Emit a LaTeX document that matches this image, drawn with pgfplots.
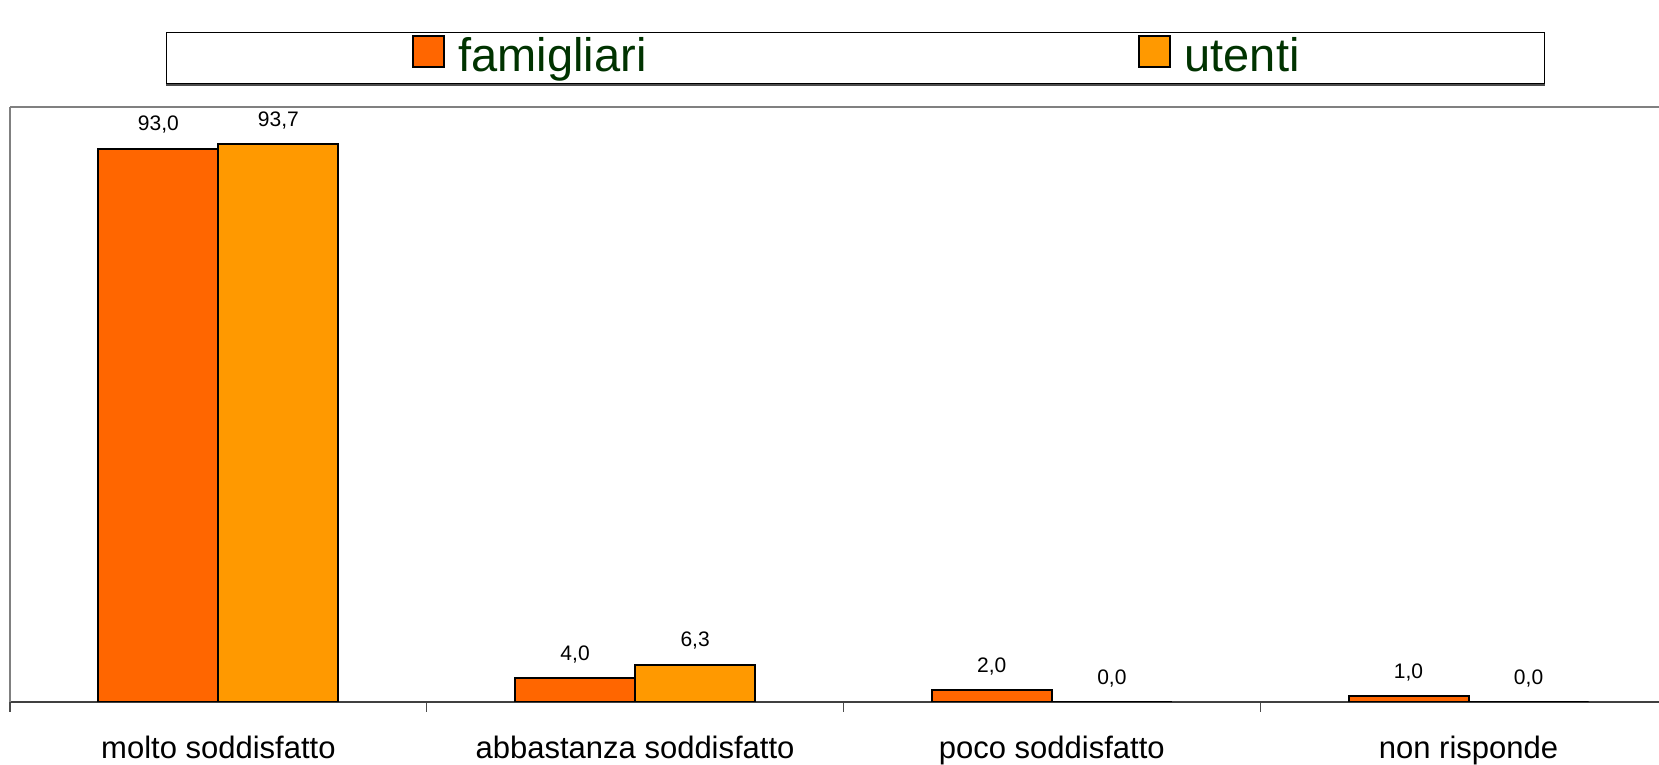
\documentclass[border=0pt]{standalone}
\usepackage{fontspec}
\setmainfont{Liberation Sans}
\usepackage{pgfplots}
\pgfplotsset{compat=1.18}
\definecolor{famc}{HTML}{FF6600}
\definecolor{utec}{HTML}{FF9900}
\definecolor{legtext}{HTML}{003300}
\begin{document}
\begin{tikzpicture}
\path[use as bounding box] (0,0) rectangle (829.5bp,382.5bp);
\begin{axis}[
  at={(5bp,31.5bp)}, anchor=south west,
  scale only axis, width=824.5bp, height=297.5bp,
  xmin=-0.5, xmax=3.457, ymin=0, ymax=100,
  ybar=0pt, bar width=0.288,
  axis x line*=bottom, axis y line*=left,
  x axis line style={-, draw=black!75, line width=1bp},
  y axis line style={-, draw=black!50, line width=1bp},
  ytick=\empty,
  xtick={0,1,2,3},
  xticklabels={molto soddisfatto, abbastanza soddisfatto, poco soddisfatto, non risponde},
  minor xtick={-0.5,0.5,1.5,2.5},
  major tick length=0pt, minor tick length=5bp,
  tick align=outside,
  minor tick style={draw=black!70, line width=0.6bp},
  xticklabel style={font=\fontsize{15.5bp}{18bp}\selectfont, anchor=base, yshift=-28bp},
  nodes near coords,
  every node near coord/.append style={font=\fontsize{10.5bp}{12bp}\selectfont, anchor=base, yshift=9bp, black},
  /pgf/number format/fixed,
  /pgf/number format/fixed zerofill,
  /pgf/number format/precision=1,
  /pgf/number format/use comma,
  /pgf/number format/assume math mode=true,
  legend columns=2,
  legend style={name=leg, at={(axis description cs:0.0946,1.1261)}, anchor=north west,
    draw=black, line width=0.6bp, fill=white,
    inner xsep=122.5bp, inner ysep=0pt,
    font=\fontsize{23.5bp}{28bp}\selectfont, text=legtext,
    nodes={inner sep=0pt, text height=19.5bp, text depth=6bp},
    /tikz/every odd column/.append style={column sep=7bp},
    /tikz/every even column/.append style={column sep=245.5bp}},
  legend cell align=left,
  sq legend/.style={legend image code/.code={\draw[##1, line width=1bp, draw=black] (0bp,-4.25bp) rectangle (15.5bp,11.25bp);}},
]
\addplot[fill=famc, draw=black, line width=1bp, sq legend] coordinates {(0,93.0) (1,4.0) (2,2.0) (3,1.0)};
\addplot[fill=utec, draw=black, line width=1bp, sq legend] coordinates {(0,93.7) (1,6.3) (2,0.0) (3,0.0)};
\legend{famigliari, utenti}
\draw[black!50, line width=1bp] (rel axis cs:0,1) -- (rel axis cs:1,1);
\end{axis}
\draw[black!70, line width=1.2bp] ([yshift=-0.3bp]leg.south west) -- ([yshift=-0.3bp]leg.south east);
\end{tikzpicture}
\end{document}
